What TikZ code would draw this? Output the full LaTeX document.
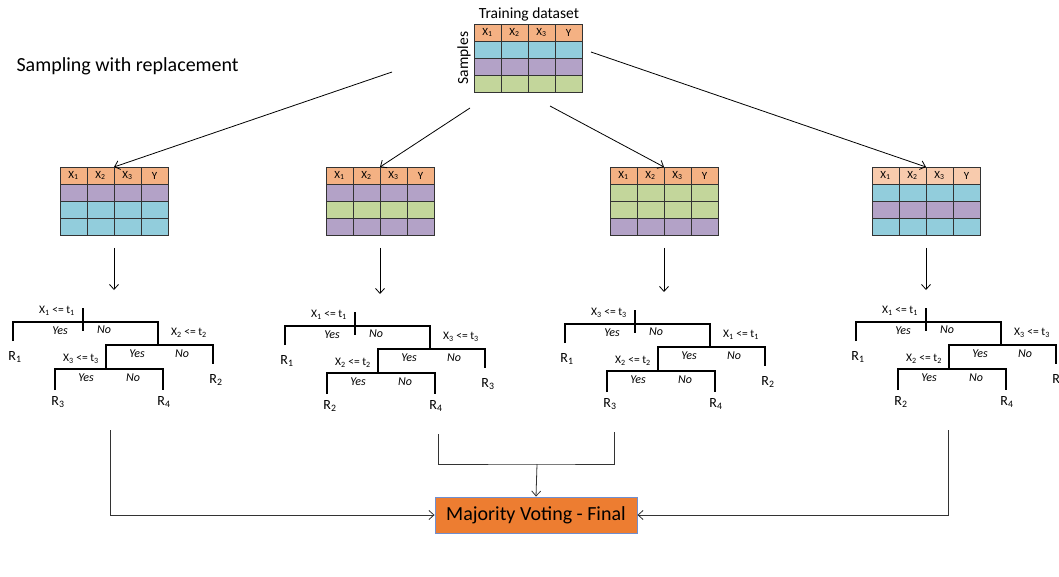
\documentclass[tikz,border=0pt]{standalone}
\usepackage{fontspec}
\setmainfont{Carlito}
\usepackage{tikz}
\usetikzlibrary{arrows.meta,positioning,calc}

\definecolor{hdr}{HTML}{F4B183}
\definecolor{hdrlight}{HTML}{F8CBAD}
\definecolor{blu}{HTML}{92CDDC}
\definecolor{purp}{HTML}{B3A2C7}
\definecolor{grn}{HTML}{C3D69B}
\definecolor{vote}{HTML}{ED7D31}
\definecolor{voteline}{HTML}{6F8FD0}

\begin{document}
\begin{tikzpicture}[
  x=1pt, y=-1pt,
  cell/.style={draw=black!80, line width=0.9pt, minimum width=27pt, minimum height=17.2pt, inner sep=0pt, outer sep=0pt, anchor=north west, font=\fontsize{11}{11}\selectfont},
  split/.style={font=\fontsize{11.5}{11.5}\selectfont, inner sep=0pt},
  yesno/.style={font=\fontsize{12}{12}\selectfont\itshape, inner sep=0pt},
  leaf/.style={font=\fontsize{14}{14}\selectfont, inner sep=0pt},
  branch/.style={line width=2.8pt},
  arrow/.style={-{Straight Barb[length=5pt, width=9pt]}, line width=0.8pt},
  link/.style={line width=0.9pt, black!80},
  vote/.style={draw=voteline, line width=0.9pt, fill=vote, minimum width=202pt, minimum height=36pt, font=\fontsize{20}{20}\selectfont},
]
  \useasboundingbox (0,0) rectangle (1059,576);

  \node[anchor=west, font=\fontsize{20}{20}\selectfont] (title) at (13,66) {Sampling with replacement};

  % training set
  \foreach \c/\t in {1/X\textsubscript{1},2/X\textsubscript{2},3/X\textsubscript{3},4/Y} {
    \node[cell, fill=hdr] (d-0-\c) at ({474+27*(\c-1)},24) {\t};
    \foreach \r/\col in {1/blu,2/purp,3/grn}
      \node[cell, fill=\col] (d-\r-\c) at ({474+27*(\c-1)},{24+17.2*\r}) {};
  }
  \node[font=\fontsize{15.5}{15.5}\selectfont, inner sep=0pt] (dname) at (529,14) {Training dataset};
  \node[font=\fontsize{15.5}{15.5}\selectfont, inner sep=0pt, rotate=90] (dsamples) at (464,58) {Samples};

  % bootstrap samples
  \foreach \k/\x/\h/\ca/\cb/\cc in {1/60/hdr/purp/blu/blu, 2/326/hdr/purp/grn/purp, 3/610/hdr/grn/grn/purp, 4/872/hdrlight/blu/purp/blu} {
    \foreach \c/\t in {1/X\textsubscript{1},2/X\textsubscript{2},3/X\textsubscript{3},4/Y} {
      \node[cell, fill=\h] (b\k-0-\c) at ({\x+27*(\c-1)},167) {\t};
      \node[cell, fill=\ca] (b\k-1-\c) at ({\x+27*(\c-1)},184.2) {};
      \node[cell, fill=\cb] (b\k-2-\c) at ({\x+27*(\c-1)},201.4) {};
      \node[cell, fill=\cc] (b\k-3-\c) at ({\x+27*(\c-1)},218.6) {};
    }
  }

  \coordinate (s1) at (392,72);
  \coordinate (s2) at (470,108);
  \coordinate (s3) at (550,106);
  \coordinate (s4) at (591,52);
  \foreach \k in {1,...,4}
    \draw[arrow] (s\k) -- (b\k-0-2.north east);

  % trees
  \foreach \i/\ox/\oy/\la/\lb/\lc/\lq/\lr/\ls/\ex in {1/13/322/1/2/3/2/3/4/97, 2/285/326/1/3/2/3/2/4/153, 3/565/324/3/1/2/2/3/4/49, 4/856/322/1/3/2/3/2/4/92} {
    \begin{scope}[shift={(\ox,\oy)}]
      \draw[branch] (0,19) |- (145,0) -- (145,23);
      \draw[branch] (70,-14) -- (70,9);
      \draw[branch] (93,47) |- (200,23) -- (200,42);
      \draw[branch] (42,68) |- (150,47) -- (150,68);
      \node[split] (qa\i) at (44,-11) {X\textsubscript{\la} <= t\textsubscript{\la}};
      \node[split] (qb\i) at (176,11) {X\textsubscript{\lb} <= t\textsubscript{\lb}};
      \node[split] (qc\i) at (68,37) {X\textsubscript{\lc} <= t\textsubscript{\lc}};
      \node[yesno] (ya\i) at (47,9) {Yes};
      \node[yesno] (na\i) at (91,8) {No};
      \node[yesno] (yb\i) at (124,32) {Yes};
      \node[yesno] (nb\i) at (169,32) {No};
      \node[yesno] (yc\i) at (73,56) {Yes};
      \node[yesno] (nc\i) at (120,56) {No};
      \node[leaf] (ra\i) at (2,35) {R\textsubscript{1}};
      \node[leaf] (rb\i) at (203,58) {R\textsubscript{\lq}};
      \node[leaf] (rc\i) at (45,80) {R\textsubscript{\lr}};
      \node[leaf] (rd\i) at (151,80) {R\textsubscript{\ls}};
      \coordinate (top\i) at (0,-32);
      \coordinate (out\i) at (\ex,108);
    \end{scope}
    \draw[arrow] ([yshift=-12pt]b\i-3-2.south east) -- (b\i-3-2.south east |- top\i);
  }

  % voting
  \node[vote] (final) at (536,515) {Majority Voting - Final};
  \coordinate (merge) at (537,464);
  \draw[link, arrow] (out1) |- (final.west);
  \draw[link, arrow] (out4) |- (final.east);
  \draw[link] (out2) |- (merge) -| (out3);
  \draw[link, arrow] (merge) -- (final.north);
\end{tikzpicture}
\end{document}
